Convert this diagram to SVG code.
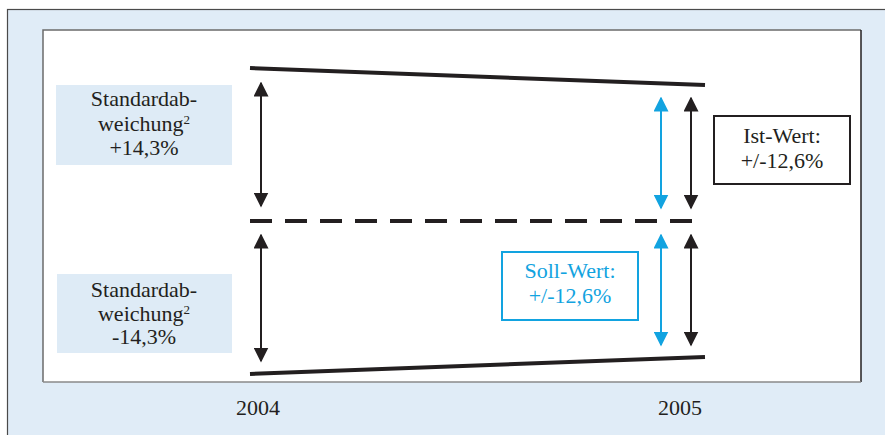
<svg xmlns="http://www.w3.org/2000/svg" width="885" height="435" viewBox="0 0 885 435">
<defs>
<style>
.t{font-family:"Liberation Serif","Times New Roman",serif;font-size:22px;fill:#231f20;text-anchor:middle}
.tb{font-family:"Liberation Serif","Times New Roman",serif;font-size:22px;fill:#12a3e0;text-anchor:middle}
.blk{stroke:#231f20;stroke-width:2;fill:none}
.blu{stroke:#12a3e0;stroke-width:2;fill:none}
.lbl{fill:#deebf6}
</style>
<marker id="ak" viewBox="0 0 10 10" refX="9" refY="5" markerWidth="7.5" markerHeight="7.5" markerUnits="strokeWidth" orient="auto-start-reverse"><path d="M0,0 L10,5 L0,10 z" fill="#231f20"/></marker>
<marker id="ab" viewBox="0 0 10 10" refX="9" refY="5" markerWidth="7.5" markerHeight="7.5" markerUnits="strokeWidth" orient="auto-start-reverse"><path d="M0,0 L10,5 L0,10 z" fill="#12a3e0"/></marker>
</defs>
<rect x="0" y="0" width="885" height="435" fill="#ffffff"/>
<g id="frame">
<rect x="7.5" y="9.5" width="880" height="430" fill="#e0ecf7" stroke="#4a4a4a" stroke-width="1.2"/>
<rect x="43" y="30" width="818" height="352" fill="#ffffff"/>
<path d="M43,382 V30 H861" fill="none" stroke="#6b6b6b" stroke-width="1.5"/>
<path d="M861,30 V382" fill="none" stroke="#231f20" stroke-width="1.5"/>
<path d="M43,382 H861" fill="none" stroke="#8a8a8a" stroke-width="1.5"/>
</g>
<g id="connectors">
<line x1="250" y1="68" x2="705" y2="85" stroke="#231f20" stroke-width="4"/>
<line x1="250" y1="374" x2="705" y2="357" stroke="#231f20" stroke-width="4"/>
<line x1="250" y1="221" x2="705" y2="221" stroke="#231f20" stroke-width="4" stroke-dasharray="22 13"/>
<line x1="261" y1="83" x2="261" y2="206" class="blk" marker-start="url(#ak)" marker-end="url(#ak)"/>
<line x1="261" y1="235" x2="261" y2="361" class="blk" marker-start="url(#ak)" marker-end="url(#ak)"/>
<line x1="661" y1="98" x2="661" y2="208" class="blu" marker-start="url(#ab)" marker-end="url(#ab)"/>
<line x1="691" y1="98" x2="691" y2="208" class="blk" marker-start="url(#ak)" marker-end="url(#ak)"/>
<line x1="661" y1="235" x2="661" y2="345" class="blu" marker-start="url(#ab)" marker-end="url(#ab)"/>
<line x1="691" y1="235" x2="691" y2="345" class="blk" marker-start="url(#ak)" marker-end="url(#ak)"/>
</g>
<g id="sd-plus">
<rect x="56" y="85" width="176" height="80" class="lbl"/>
<text class="t" x="144" y="106">Standardab-</text>
<text class="t" x="144" y="131">weichung<tspan font-size="13" dy="-7">2</tspan></text>
<text class="t" x="144" y="155">+14,3%</text>
</g>
<g id="sd-minus">
<rect x="57" y="274" width="175" height="79" class="lbl"/>
<text class="t" x="144" y="297">Standardab-</text>
<text class="t" x="144" y="321">weichung<tspan font-size="13" dy="-7">2</tspan></text>
<text class="t" x="144" y="344">-14,3%</text>
</g>
<g id="ist">
<rect x="714" y="116" width="136" height="68" fill="#ffffff" stroke="#231f20" stroke-width="2"/>
<text class="t" x="782" y="143">Ist-Wert:</text>
<text class="t" x="782" y="168">+/-12,6%</text>
</g>
<g id="soll">
<rect x="502" y="252" width="136" height="68" fill="#ffffff" stroke="#12a3e0" stroke-width="2"/>
<text class="tb" x="570" y="278">Soll-Wert:</text>
<text class="tb" x="570" y="303">+/-12,6%</text>
</g>
<g id="years">
<text class="t" x="258" y="415">2004</text>
<text class="t" x="680" y="415">2005</text>
</g>
</svg>
